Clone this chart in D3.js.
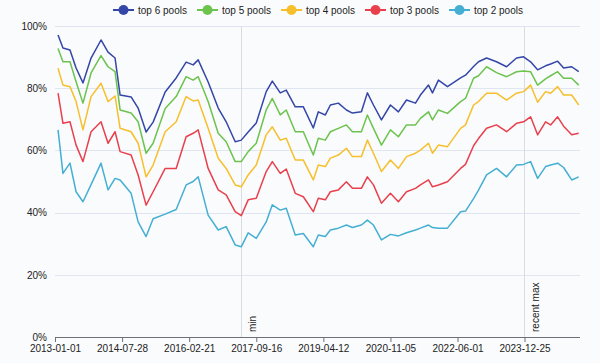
<!DOCTYPE html>
<html>
<head>
<meta charset="utf-8">
<script src="https://cdn.jsdelivr.net/npm/d3@7"></script>
<style>
    body { margin: 0; background: #fafbfc; }
    svg { display: block; font-family: "Liberation Sans", Arial, sans-serif; }
</style>
</head>
<body>
<script>
let dates = ["2013-01-27","2013-03-10","2013-05-09","2013-06-30","2013-08-28","2013-11-05","2014-01-29","2014-03-30",
    "2014-05-29","2014-07-11","2014-10-13","2014-12-12","2015-02-18","2015-04-19","2015-07-31","2015-11-02",
    "2016-01-26","2016-03-26","2016-05-08","2016-08-01","2016-10-26","2017-01-02","2017-03-20","2017-05-11",
    "2017-07-09","2017-09-16","2017-12-10","2018-01-31","2018-04-09","2018-05-30","2018-08-15","2018-10-23",
    "2019-01-16","2019-02-28","2019-04-29","2019-06-11","2019-08-18","2019-10-26","2019-12-16","2020-03-02",
    "2020-04-22","2020-06-13","2020-08-20","2020-11-05","2021-01-12","2021-03-22","2021-06-07","2021-07-19",
    "2021-09-26","2021-10-30","2021-12-20","2022-03-07","2022-06-27","2022-08-08","2022-10-16","2022-11-27",
    "2023-02-04","2023-04-30","2023-07-25","2023-10-18","2023-12-17","2024-02-15","2024-04-15","2024-06-22",
    "2024-08-04","2024-10-03","2024-11-23","2025-01-31","2025-04-01"];

let top6 = [97.1,92.9,92.3,86.5,81.7,89.7,95.5,91.6,89.7,77.8,77.2,73.6,65.9,69.1,78.8,83.3,
    88.4,87.5,89.1,82,73.6,69.2,62.8,63.3,65.9,68.8,78.9,82.3,78.5,79.4,74,74,
    67.2,72.4,71.4,74.6,75.2,73,72,72.4,78.5,74.6,69.8,74.6,72.4,76.2,75.2,77.8,
    81,78.5,82.6,80.5,83.3,84.2,87,88.5,89.7,88.5,86.9,89.7,90.1,88.5,85.9,87.2,
    87.8,88.7,86.5,86.9,85.3];
let top5 = [92.8,88.5,88.5,82.1,75.2,84.9,90.5,86.9,85.3,73,72,69.2,59.1,62.3,73.5,77.3,
    83.7,82.6,83.7,75.7,65.5,62.8,56.4,56.4,59.6,62.3,73,76.7,71.4,73,66,66,
    58.5,63.9,63.3,66,67.1,68.2,66,66,71.4,67.1,61.7,66.6,64.4,68.2,68.2,70.3,
    72.4,69.8,73,71.9,75.7,76.7,83.2,84,86.9,85,83.7,85.3,85.5,85.3,81,83,
    84,85.3,83.2,83.2,81];
let top4 = [86.4,81,80.5,75.7,66.6,77.3,81.6,75.7,77.5,67.1,66,62.3,51.5,55.3,66,69.2,
    77.3,75.9,76.2,67.1,57.5,54.2,48.9,48.3,52.1,55.3,65,67.6,63.3,63.9,56.9,56.9,
    50.5,55.3,54.8,57.5,58.5,60.7,58,58,63.3,59.1,53.2,56.9,54.2,58,59.1,60.1,
    62.3,59.1,61.7,61.2,67.1,68.2,74.6,75.7,78.4,78.4,76.2,78.4,78.9,81,75.5,78.9,
    78.4,80.5,77.8,77.8,74.6];
let top3 = [78.4,68.7,69.2,61.7,56.4,66,69.2,62.3,66,59.6,58.5,52.1,42.4,46.7,54.2,54.2,
    64.4,65.5,66.6,54.2,47.3,45.7,40.3,39,44.1,44.6,53.2,56.4,52.6,54,46.2,45.1,
    40.3,44.6,44.1,46.7,47.3,49.9,47.8,47.8,51.5,48.9,43,46.2,43.5,46.7,47.8,48.9,
    50.5,48.3,48.9,49.9,54.2,55.5,61.5,63.8,67.1,68.2,66,68.7,69.2,70.8,65,69.2,
    68.2,70.8,67.8,65,65.5];
let top2 = [66.6,52.6,55.9,46.7,43.5,49,55.9,47.3,51,50.5,46.2,37,32.3,38,39.5,41,
    48.9,50,51.5,39.2,34.4,35.5,29.6,29,33.5,31.7,37,42.5,40.8,41.4,32.8,33.3,
    29,32.8,32.3,34.4,35,36,35.2,36,37.6,36,31.2,33,32.5,33.5,34.4,35,
    36,35.2,35,35,40.3,40.5,44.5,47.2,52.1,54.2,51.5,55.3,55.5,56.4,51,54.8,
    55.3,55.9,54.5,50.5,51.5];

let series_names = ["top 6 pools", "top 5 pools", "top 4 pools", "top 3 pools", "top 2 pools"];
let series_values = [top6, top5, top4, top3, top2];
let colors = ["#3446a8", "#6cc34d", "#f6bf2b", "#e8404c", "#44afd3"];

let x_ticks = ["2013-01-01", "2014-07-28", "2016-02-21", "2017-09-16", "2019-04-12", "2020-11-05", "2022-06-01", "2023-12-25"];
let y_ticks = [0, 20, 40, 60, 80, 100];
let mark_dates = ["2017-05-11", "2023-12-17"];
let mark_labels = ["min", "recent max"];

let width = 600,
    height = 363,
    margin = {top: 26, right: 20, bottom: 26, left: 55};

let parse = d3.timeParse("%Y-%m-%d");

let svg = d3.select("body")
    .append("svg")
    .attr("width", width)
    .attr("height", height);

let x = d3.scaleTime()
    .domain([parse("2013-01-01"), parse("2025-04-12")])
    .range([margin.left, width - margin.right]);

let y = d3.scaleLinear()
    .domain([0, 100])
    .range([height - margin.bottom, margin.top]);

/* ------- GRID -------*/
svg.append("g")
    .selectAll("line")
    .data(y_ticks.filter(function(d) { return d > 0; }))
    .enter()
    .append("line")
    .attr("x1", margin.left)
    .attr("x2", width - margin.right)
    .attr("y1", function(d) { return Math.round(y(d)) + 0.5; })
    .attr("y2", function(d) { return Math.round(y(d)) + 0.5; })
    .attr("stroke", "#e0e6f1")
    .attr("stroke-width", 1);

/* ------- AXES -------*/
let yAxis = d3.axisLeft(y)
    .tickValues(y_ticks)
    .tickSize(0)
    .tickPadding(8)
    .tickFormat(function(d) { return d + "%"; });

svg.append("g")
    .attr("transform", "translate(" + margin.left + ",0)")
    .call(yAxis)
    .call(function(g) { g.select(".domain").remove(); })
    .selectAll("text")
    .attr("font-size", 10)
    .attr("fill", "#222");

let xAxis = d3.axisBottom(x)
    .tickValues(x_ticks.map(parse))
    .tickSize(5)
    .tickPadding(3)
    .tickFormat(d3.timeFormat("%Y-%m-%d"));

let gx = svg.append("g")
    .attr("transform", "translate(0," + y(0) + ")")
    .call(xAxis);
gx.select(".domain").attr("stroke", "#6e7079").attr("d", "M" + margin.left + ",0.5H" + (width - margin.right));
gx.selectAll(".tick line").attr("stroke", "#6e7079");
gx.selectAll("text").attr("font-size", 10).attr("fill", "#222");

/* ------- MARK LINES -------*/
let marks = svg.append("g");
mark_dates.forEach(function(d, i) {
    let mx = Math.round(x(parse(d))) + 0.5;
    marks.append("line")
        .attr("x1", mx).attr("x2", mx)
        .attr("y1", y(100)).attr("y2", y(0))
        .attr("stroke", "#d8dce3")
        .attr("stroke-width", 1);
    marks.append("text")
        .attr("transform", "translate(" + (mx + 14) + "," + (y(0) - 5) + ") rotate(-90)")
        .attr("font-size", 10)
        .attr("fill", "#222")
        .text(mark_labels[i]);
});

/* ------- LINES -------*/
let line = d3.line()
    .x(function(d, i) { return x(parse(dates[i])); })
    .y(function(d) { return y(d); });

svg.append("g")
    .selectAll("path")
    .data(series_values)
    .enter()
    .append("path")
    .attr("d", line)
    .attr("fill", "none")
    .attr("stroke", function(d, i) { return colors[i]; })
    .attr("stroke-width", 1.5)
    .attr("stroke-linejoin", "round");

/* ------- LEGEND -------*/
let legend = svg.append("g")
    .attr("transform", "translate(113,10)");

let item = legend.selectAll("g")
    .data(series_names)
    .enter()
    .append("g")
    .attr("transform", function(d, i) { return "translate(" + (i * 84) + ",0)"; });

item.append("line")
    .attr("x1", 0).attr("x2", 21)
    .attr("stroke", function(d, i) { return colors[i]; })
    .attr("stroke-width", 2);
item.append("circle")
    .attr("cx", 10.5)
    .attr("r", 5)
    .attr("fill", function(d, i) { return colors[i]; });
item.append("text")
    .attr("x", 25)
    .attr("dy", "0.35em")
    .attr("font-size", 10)
    .attr("fill", "#222")
    .text(function(d) { return d; });
</script>
</body>
</html>
